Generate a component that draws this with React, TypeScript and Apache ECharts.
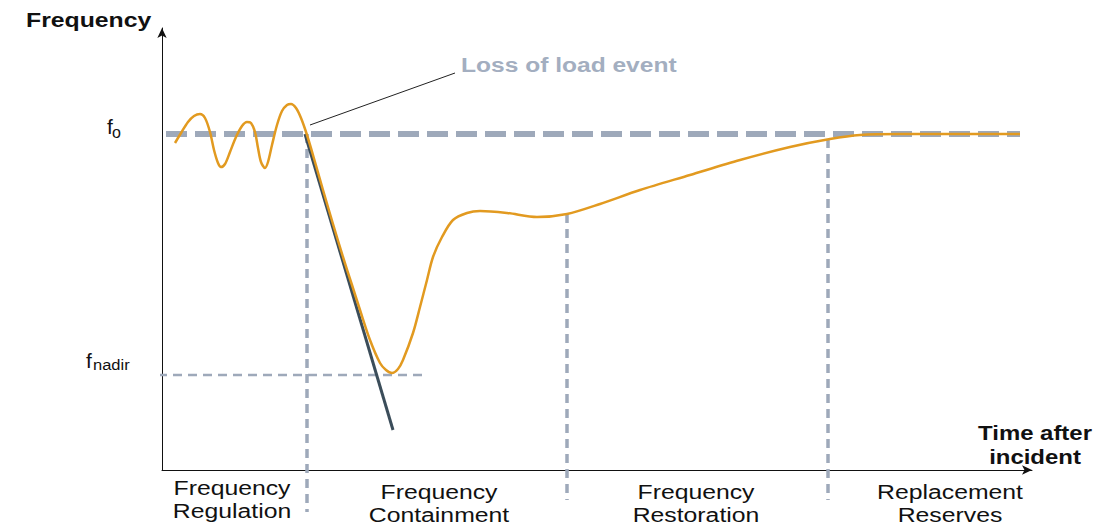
import React, { useEffect, useRef } from "react";
import * as echarts from "echarts";

// Schematic units: time after start (x) and frequency level (y)
const curveTime = [13, 19, 26, 32, 38, 43, 48, 52, 56, 59, 63, 68, 74, 80, 85, 89, 93, 96, 99, 103, 106, 110, 115, 120, 125, 129, 134, 139, 145, 153, 161, 171, 181, 190, 198, 208, 218, 224, 230, 236, 241, 251, 258, 265, 271, 280, 291, 305, 318, 345, 375, 405, 438, 478, 528, 578, 628, 668, 698, 738, 858];
const curveFreq = [327, 337, 348, 354, 356, 352, 338, 320, 307, 303, 306, 318, 333, 344, 348, 347, 338, 322, 308, 302, 308, 325, 345, 359, 365, 366, 362, 352, 335, 308, 280, 246, 213, 185, 160, 130, 107, 100, 97, 101, 110, 137, 163, 190, 213, 233, 250, 257, 259, 257, 253, 256, 266, 280, 295, 310, 323, 331, 335, 336, 336];

const f0Level = 336;
const f0Span = [-25, 858];
const nadirLevel = 95;
const nadirSpan = [-19, 265];
const rocofTime = [143, 231];
const rocofFreq = [336, 40];
const phaseTime = [145, 405, 666];
const phaseTop = [336, 256, 331];
const phaseBottom = [-42, -30, -30];
const eventLineTime = [148, 293];
const eventLineFreq = [345, 397];

const phaseLabels = ["Frequency\nRegulation", "Frequency\nContainment", "Frequency\nRestoration", "Replacement\nReserves"];
const phaseLabelX = [232, 439, 696, 950];
const phaseLabelY = [499, 503, 503, 503];

export default function App() {
  const ref = useRef<HTMLDivElement>(null);
  useEffect(() => {
    if (!ref.current) return;
    const chart = echarts.init(ref.current, null, { renderer: "svg" });
    const font = '"Liberation Sans", Arial, sans-serif';
    const dashColor = "#9ea9ba";
    const series: any[] = [];
    series.push({
      type: "line",
      data: [[f0Span[0], f0Level], [f0Span[1], f0Level]],
      symbol: "none",
      clip: false,
      silent: true,
      z: 2,
      lineStyle: { color: dashColor, width: 6, type: [21, 8] },
    });
    series.push({
      type: "line",
      data: [[nadirSpan[0], nadirLevel], [nadirSpan[1], nadirLevel]],
      symbol: "none",
      clip: false,
      silent: true,
      z: 2,
      lineStyle: { color: dashColor, width: 2.5, type: [9, 6] },
    });
    phaseTime.forEach((t, i) => {
      series.push({
        type: "line",
        data: [[t, phaseTop[i]], [t, phaseBottom[i]]],
        symbol: "none",
        clip: false,
        silent: true,
        z: 2,
        lineStyle: { color: dashColor, width: 3.5, type: [9, 6] },
      });
    });
    series.push({
      type: "line",
      data: rocofTime.map((t, i) => [t, rocofFreq[i]]),
      symbol: "none",
      clip: false,
      silent: true,
      z: 3,
      lineStyle: { color: "#3b4d5a", width: 3 },
    });
    series.push({
      type: "line",
      data: curveTime.map((t, i) => [t, curveFreq[i]]),
      symbol: "none",
      smooth: 0.3,
      clip: false,
      silent: true,
      z: 4,
      lineStyle: { color: "#e29a20", width: 2.5 },
    });
    series.push({
      type: "line",
      data: eventLineTime.map((t, i) => [t, eventLineFreq[i]]),
      symbol: "none",
      clip: false,
      silent: true,
      z: 5,
      lineStyle: { color: "#222", width: 1 },
    });

    const texts: any[] = [
      {
        type: "text", x: 26, y: 20, scaleX: 1.18,
        style: { text: "Frequency", font: `bold 21px ${font}`, fill: "#111", verticalAlign: "middle" },
      },
      {
        type: "text", x: 461, y: 65, scaleX: 1.17,
        style: { text: "Loss of load event", font: `bold 21px ${font}`, fill: "#a3aec0", verticalAlign: "middle" },
      },
      {
        type: "text", x: 1035, y: 445, scaleX: 1.14,
        style: { text: "Time after\nincident", font: `bold 21px ${font}`, fill: "#111", align: "center", verticalAlign: "middle", lineHeight: 24 },
      },
      {
        type: "text", x: 107, y: 126, style: { text: "f", font: `21px ${font}`, fill: "#111", verticalAlign: "middle" },
      },
      {
        type: "text", x: 112, y: 132, style: { text: "o", font: `16px ${font}`, fill: "#111", verticalAlign: "middle" },
      },
      {
        type: "text", x: 86, y: 360, style: { text: "f", font: `21px ${font}`, fill: "#111", verticalAlign: "middle" },
      },
      {
        type: "text", x: 93, y: 365, scaleX: 1.1, style: { text: "nadir", font: `15px ${font}`, fill: "#111", verticalAlign: "middle" },
      },
    ];
    phaseLabels.forEach((t, i) => {
      texts.push({
        type: "text", x: phaseLabelX[i], y: phaseLabelY[i], scaleX: 1.18,
        style: { text: t, font: `21px ${font}`, fill: "#111", align: "center", verticalAlign: "middle", lineHeight: 23 },
      });
    });

    const axisCommon = {
      type: "value",
      axisLine: { show: true, onZero: false, symbol: ["none", "arrow"], symbolSize: [7, 10], lineStyle: { color: "#111", width: 1 } },
      axisTick: { show: false },
      axisLabel: { show: false },
      splitLine: { show: false },
    };

    chart.setOption({
      animation: false,
      backgroundColor: "#ffffff",
      grid: { left: 162, right: 88, top: 28, bottom: 55, containLabel: false },
      xAxis: { ...axisCommon, min: 0, max: 870 },
      yAxis: { ...axisCommon, min: 0, max: 442 },
      series,
      graphic: texts,
    });
    return () => chart.dispose();
  }, []);
  return <div ref={ref} style={{ position: "absolute", left: 0, top: 0, width: 1120, height: 525 }} />;
}
